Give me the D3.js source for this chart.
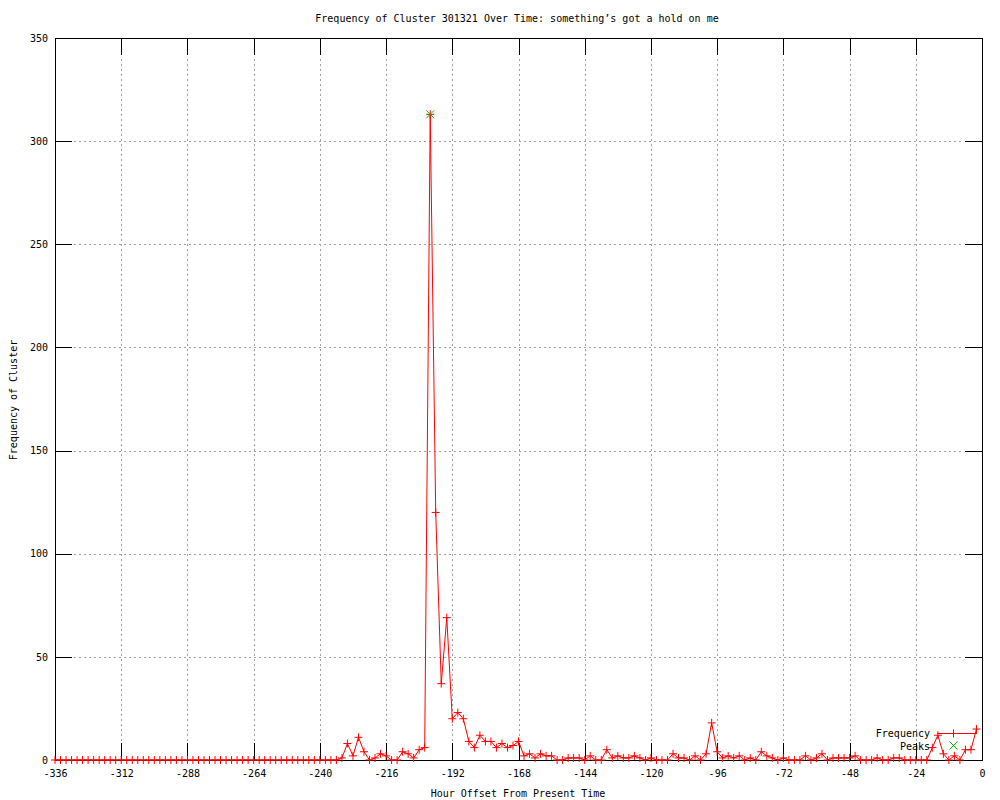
<!DOCTYPE html>
<html>
<head>
<meta charset="utf-8">
<script src="https://cdn.jsdelivr.net/npm/d3@7"></script>
<style>
  body { margin: 0; background: #fff; }
  svg { display: block; }
  text { font-family: "DejaVu Sans Mono", monospace; font-size: 10px; fill: #000; }
</style>
</head>
<body>
<div id="chart"></div>
<script>
// Hours before now, one sample every 2 hours
const hours = d3.range(-336, 0, 2);

// Frequency per 2-hour bucket
const frequency = [
  0, 0, 0, 0, 0, 0, 0, 0, 0, 0, 0, 0, 0, 0, 0, 0, 0, 0, 0, 0, 0, 0, 0, 0, 0, 0,
  0, 0, 0, 0, 0, 0, 0, 0, 0, 0, 0, 0, 0, 0, 0, 0, 0, 0, 0, 0, 0, 0, 0, 0, 0, 0,
  1, 8, 2, 11, 4, 0, 1, 3, 2, 0, 0, 4, 3, 1, 5, 6,
  313, 120, 37, 69, 20, 23, 20, 9, 6, 12, 9, 9, 6, 8, 6, 7, 9,
  2, 3, 1, 3, 2, 2, 0, 0, 1, 1, 1, 0, 2, 0, 0, 5, 1, 2, 1, 1, 2, 1, 0, 1, 0,
  0, 0, 3, 1, 1, 0, 2, 0, 3, 18, 4, 1, 2, 1, 2, 0, 1, 0, 4, 2, 1, 0, 1, 0,
  0, 0, 2, 0, 1, 3, 0, 1, 1, 1, 1, 2, 0, 0, 0, 1, 0, 0, 1, 1, 0, 0, 0, 0, 0,
  6, 12, 3, 0, 2, 0, 5, 5, 15
];

// Detected peaks
const peakHours = [-200];
const peakValues = [313];

const xTicks = [-336, -312, -288, -264, -240, -216, -192, -168, -144, -120, -96, -72, -48, -24, 0];
const yTicks = [0, 50, 100, 150, 200, 250, 300, 350];

const W = 1000, H = 800;
const plotL = 55, plotR = 982, plotT = 38, plotB = 760;
const tick = 17;

const svg = d3.select('#chart').append('svg')
  .attr('width', W)
  .attr('height', H);

const x = d3.scaleLinear().domain([-336, 0]).range([plotL, plotR]);
const y = d3.scaleLinear().domain([0, 350]).range([plotB, plotT]);

// grid
const grid = svg.append('g')
  .attr('stroke', '#a0a0a0')
  .attr('stroke-dasharray', '2,3')
  .attr('shape-rendering', 'crispEdges');
grid.selectAll('line.v')
  .data(xTicks.slice(1, -1)).enter()
  .append('line')
  .attr('x1', (d) => Math.round(x(d)) + 0.5)
  .attr('x2', (d) => Math.round(x(d)) + 0.5)
  .attr('y1', plotB - tick - 2)
  .attr('y2', plotT + tick + 2);
grid.selectAll('line.h')
  .data(yTicks.slice(1, -1)).enter()
  .append('line')
  .attr('y1', (d) => Math.round(y(d)) + 0.5)
  .attr('y2', (d) => Math.round(y(d)) + 0.5)
  .attr('x1', plotL + tick + 2)
  .attr('x2', plotR - tick - 2);

// axes, ticks pointing inwards like gnuplot
const axisStyle = (g) => {
  g.select('.domain').remove();
  g.selectAll('line').attr('stroke', '#000').attr('shape-rendering', 'crispEdges');
  g.selectAll('text').attr('font-family', '"DejaVu Sans Mono", monospace').attr('font-size', 10);
};

svg.append('g')
  .attr('transform', `translate(0, ${plotB})`)
  .call(d3.axisBottom(x).tickValues(xTicks).tickSize(-tick).tickPadding(10).tickFormat((d) => d))
  .call(axisStyle);
svg.append('g')
  .attr('transform', `translate(0, ${plotT})`)
  .call(d3.axisTop(x).tickValues(xTicks).tickSize(-tick).tickFormat(''))
  .call(axisStyle);
svg.append('g')
  .attr('transform', `translate(${plotL}, 0)`)
  .call(d3.axisLeft(y).tickValues(yTicks).tickSize(-tick).tickPadding(7).tickFormat((d) => d))
  .call(axisStyle);
svg.append('g')
  .attr('transform', `translate(${plotR}, 0)`)
  .call(d3.axisRight(y).tickValues(yTicks).tickSize(-tick).tickFormat(''))
  .call(axisStyle);

// border
svg.append('rect')
  .attr('x', plotL + 0.5)
  .attr('y', plotT + 0.5)
  .attr('width', plotR - plotL)
  .attr('height', plotB - plotT)
  .attr('fill', 'none')
  .attr('stroke', '#000')
  .attr('shape-rendering', 'crispEdges');

// frequency line
const data = hours.map((h, i) => ({ h, v: frequency[i] }));
svg.append('path')
  .datum(data)
  .attr('fill', 'none')
  .attr('stroke', '#ff0000')
  .attr('stroke-width', 1)
  .attr('d', d3.line().x((d) => x(d.h)).y((d) => y(d.v)));

const plus = (g, cx, cy, color) => {
  g.append('path')
    .attr('d', `M${cx - 4},${cy}H${cx + 4}M${cx},${cy - 4}V${cy + 4}`)
    .attr('stroke', color)
    .attr('stroke-width', 1)
    .attr('fill', 'none');
};
const cross = (g, cx, cy, color) => {
  g.append('path')
    .attr('d', `M${cx - 4},${cy - 4}L${cx + 4},${cy + 4}M${cx - 4},${cy + 4}L${cx + 4},${cy - 4}`)
    .attr('stroke', color)
    .attr('stroke-width', 1)
    .attr('fill', 'none');
};

const marks = svg.append('g');
data.forEach((d) => plus(marks, x(d.h), y(d.v), '#ff0000'));

// peaks
const peaks = svg.append('g');
peakHours.forEach((h, i) => cross(peaks, x(h), y(peakValues[i]), '#00c000'));

// legend
const legend = svg.append('g');
legend.append('text').attr('x', 930).attr('y', 737).attr('text-anchor', 'end').text('Frequency');
legend.append('line')
  .attr('x1', 937).attr('x2', 977).attr('y1', 733.5).attr('y2', 733.5)
  .attr('stroke', '#ff0000');
plus(legend, 953.5, 733.5, '#ff0000');
legend.append('text').attr('x', 930).attr('y', 750).attr('text-anchor', 'end').text('Peaks');
cross(legend, 953.5, 745.5, '#00c000');

// titles
svg.append('text')
  .attr('x', 517).attr('y', 22)
  .attr('text-anchor', 'middle')
  .text('Frequency of Cluster 301321 Over Time: something\u2019s got a hold on me');
svg.append('text')
  .attr('x', 518).attr('y', 797)
  .attr('text-anchor', 'middle')
  .text('Hour Offset From Present Time');
svg.append('text')
  .attr('transform', 'translate(17, 400) rotate(-90)')
  .attr('text-anchor', 'middle')
  .text('Frequency of Cluster');
</script>
</body>
</html>
